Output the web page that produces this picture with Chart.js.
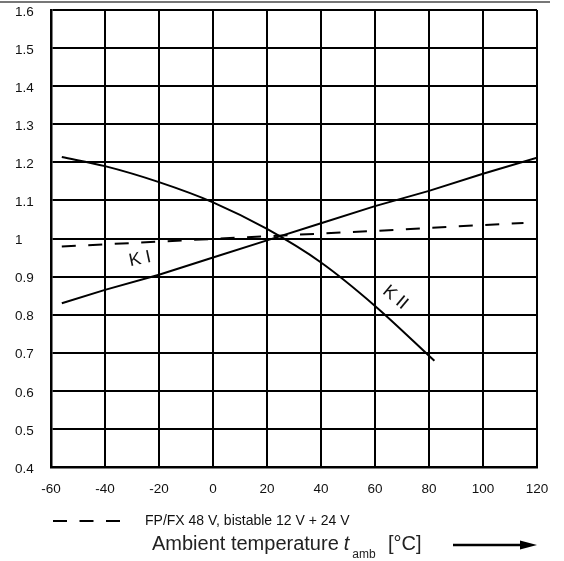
<!DOCTYPE html>
<html>
<head>
<meta charset="utf-8">
<script src="https://cdn.jsdelivr.net/npm/chart.js@4.4.1/dist/chart.umd.min.js"></script>
<style>
    body { margin: 0; background: #fff; }
    #wrap { position: relative; width: 564px; height: 561px; }
</style>
</head>
<body>
<div id="wrap"><canvas id="chart"></canvas></div>
<script>
// curve K I (solid, rising)
const k1Temps = [-56, -40, -20, 0, 20, 40, 60, 80, 100, 120];
const k1Values = [0.83, 0.865, 0.905, 0.95, 0.995, 1.04, 1.085, 1.125, 1.17, 1.212];
// curve K II (solid, falling)
const k2Temps = [-56, -40, -20, 0, 20, 40, 60, 82];
const k2Values = [1.214, 1.19, 1.148, 1.095, 1.025, 0.937, 0.823, 0.679];
// dashed curve (FP/FX 48 V, bistable)
const dashTemps = [-56, 0, 60, 115];
const dashValues = [0.979, 0.999, 1.02, 1.041];

const xTickLabels = ['-60', '-40', '-20', '0', '20', '40', '60', '80', '100', '120'];
const yTickLabels = ['0.4', '0.5', '0.6', '0.7', '0.8', '0.9', '1', '1.1', '1.2', '1.3', '1.4', '1.5', '1.6'];
const legendText = 'FP/FX 48 V, bistable 12 V + 24 V';

const FONT = '"Liberation Sans", Arial, sans-serif';

const toPoints = (xs, ys) => xs.map((x, i) => ({ x: x, y: ys[i] }));

// 주석, 범례, 축 제목 그리기
const extrasPlugin = {
    id: 'extras',
    afterDraw(chart) {
        const ctx = chart.ctx;
        const xs = chart.scales.x;
        const ys = chart.scales.y;
        ctx.save();

        // grey rule at the very top
        ctx.fillStyle = '#777';
        ctx.fillRect(0, 1, 550, 2);

        ctx.fillStyle = '#111';
        ctx.textBaseline = 'middle';
        ctx.textAlign = 'center';
        ctx.font = '18px ' + FONT;

        // K I label
        ctx.save();
        ctx.translate(xs.getPixelForValue(-27), ys.getPixelForValue(0.946));
        ctx.rotate(-12 * Math.PI / 180);
        ctx.fillText('K I', 0, 0);
        ctx.restore();

        // K II label
        ctx.save();
        ctx.translate(xs.getPixelForValue(67.5), ys.getPixelForValue(0.845));
        ctx.rotate(40 * Math.PI / 180);
        ctx.fillText('K II', 0, 0);
        ctx.restore();

        // legend for dashed line
        const ds = chart.data.datasets[2];
        ctx.strokeStyle = ds.borderColor;
        ctx.lineWidth = 2;
        ctx.setLineDash(ds.borderDash);
        ctx.beginPath();
        ctx.moveTo(53, 521);
        ctx.lineTo(121, 521);
        ctx.stroke();
        ctx.setLineDash([]);
        ctx.textAlign = 'left';
        ctx.font = '14px ' + FONT;
        ctx.fillText(legendText, 145, 521);

        // axis title
        ctx.textBaseline = 'alphabetic';
        ctx.fillStyle = '#222';
        let x = 152;
        const base = 550;
        ctx.font = '20px ' + FONT;
        ctx.fillText('Ambient temperature', x, base);
        x += ctx.measureText('Ambient temperature').width + 5;
        ctx.font = 'italic 20px ' + FONT;
        ctx.fillText('t', x, base);
        x += ctx.measureText('t').width + 3;
        ctx.font = '12px ' + FONT;
        ctx.fillText('amb', x, base + 8);
        ctx.font = '20px ' + FONT;
        ctx.fillText('[°C]', 388, base);

        // arrow
        ctx.strokeStyle = '#000';
        ctx.lineWidth = 2.5;
        ctx.beginPath();
        ctx.moveTo(453, 545);
        ctx.lineTo(524, 545);
        ctx.stroke();
        ctx.fillStyle = '#000';
        ctx.beginPath();
        ctx.moveTo(537, 545);
        ctx.lineTo(520, 540.5);
        ctx.lineTo(520, 549.5);
        ctx.closePath();
        ctx.fill();

        ctx.restore();
    }
};

new Chart(document.getElementById('chart'), {
    type: 'scatter',
    data: {
        datasets: [
            {
                label: 'K I',
                data: toPoints(k1Temps, k1Values),
                showLine: true,
                borderColor: '#000',
                borderWidth: 2,
                pointRadius: 0,
                tension: 0
            },
            {
                label: 'K II',
                data: toPoints(k2Temps, k2Values),
                showLine: true,
                borderColor: '#000',
                borderWidth: 2,
                pointRadius: 0,
                cubicInterpolationMode: 'monotone'
            },
            {
                label: legendText,
                data: toPoints(dashTemps, dashValues),
                showLine: true,
                borderColor: '#000',
                borderWidth: 2,
                borderDash: [14, 12.5],
                pointRadius: 0,
                tension: 0
            }
        ]
    },
    options: {
        responsive: true,
        maintainAspectRatio: false,
        animation: false,
        events: [],
        layout: { padding: { left: 15, right: 27, top: 10, bottom: 64 } },
        plugins: {
            legend: { display: false },
            tooltip: { enabled: false }
        },
        scales: {
            x: {
                type: 'linear',
                min: -60,
                max: 120,
                afterFit: s => { s.height = 30; },
                ticks: {
                    stepSize: 20,
                    padding: 14,
                    color: '#111',
                    font: { family: FONT, size: 13.5 },
                    callback: (v, i) => xTickLabels[i]
                },
                grid: { color: '#000', lineWidth: 2, drawTicks: false },
                border: { color: '#000', width: 2.5 }
            },
            y: {
                min: 0.4,
                max: 1.6,
                afterFit: s => { s.width = 36; },
                ticks: {
                    stepSize: 0.1,
                    crossAlign: 'far',
                    labelOffset: 2,
                    padding: 0,
                    color: '#111',
                    font: { family: FONT, size: 13.5 },
                    callback: (v, i) => yTickLabels[i]
                },
                grid: { color: '#000', lineWidth: 2, drawTicks: false },
                border: { color: '#000', width: 2.5 }
            }
        }
    },
    plugins: [extrasPlugin]
});
</script>
</body>
</html>
